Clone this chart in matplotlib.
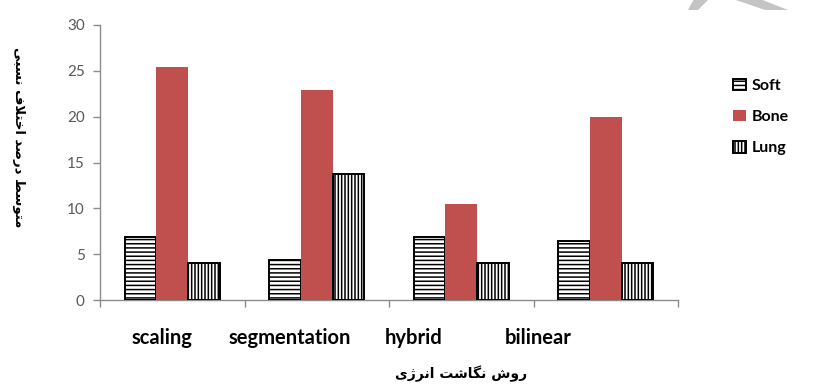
import matplotlib.pyplot as plt
import numpy as np
from matplotlib.patches import Patch, Polygon

# mean relative difference per energy-mapping method
methods = ["scaling", "segmentation", "hybrid", "bilinear"]
soft = [6.9, 4.4, 6.9, 6.4]
bone = [25.4, 22.9, 10.5, 20.0]
lung = [4.0, 13.8, 4.0, 4.0]
y_ticks = [0, 5, 10, 15, 20, 25, 30]

# Persian titles, written in visual order with presentation forms
# (matplotlib has no Arabic shaping of its own)
x_title = "\uFBFC\uFB8A\uFEAE\uFEE7\uFE8D \uFE96\uFEB7\uFE8E\uFB95\uFEE7 \uFEB5\uFEED\uFEAD"
y_title = ("\uFBFD\uFE92\uFEB4\uFEE7 \uFED1\uFEFC\uFE98\uFEA7\uFE8D "
           "\uFEAA\uFEBB\uFEAD\uFEA9 \uFEC2\uFEB3\uFEEE\uFE98\uFEE3")

W, H = 813, 385
BONE_RED = "#c0504d"
AXIS_GREY = "#8c8c8c"


def fx(px):
    return px / W


def fy(py):
    return 1 - py / H


def main():
    plt.rcParams["font.family"] = ["Lato", "DejaVu Sans"]
    plt.rcParams["hatch.linewidth"] = 1.1

    fig = plt.figure(figsize=(W / 100, H / 100), dpi=100)
    fig.patch.set_facecolor("white")

    # grey watermark band peeking in at the top
    for pts in ([(688, 10), (698, 10), (709, -1), (694, -1)],
                [(733, -1), (760, -1), (788, 10), (765, 10)]):
        fig.add_artist(Polygon([(fx(x), fy(y)) for x, y in pts], closed=True,
                               transform=fig.transFigure, color="#c4c4c4", lw=0))

    ax = fig.add_axes([fx(100), fy(300), fx(678) - fx(100), (300 - 25) / H])

    x = np.arange(len(methods))
    w = 0.22
    ax.bar(x - w, soft, w, facecolor="white", edgecolor="black", hatch="----",
           linewidth=1.4, label="Soft", zorder=3)
    ax.bar(x, bone, w, color=BONE_RED, linewidth=0, label="Bone", zorder=3)
    ax.bar(x + w, lung, w, facecolor="white", edgecolor="black", hatch="|||||",
           linewidth=1.4, label="Lung", zorder=3)

    ax.set_xlim(-0.5, len(methods) - 0.5)
    ax.set_ylim(0, 30)
    ax.set_yticks(y_ticks)
    ax.tick_params(axis="y", length=5, width=1, color=AXIS_GREY, pad=6,
                   labelsize=11, labelcolor="#595959")

    # slot boundaries carry the tick marks, labels sit on their own positions
    ax.set_xticks(np.arange(-0.5, len(methods), 1.0), minor=True)
    ax.set_xticks([-0.07, 0.81, 1.67, 2.53])
    ax.set_xticklabels(methods, fontsize=14.5, fontweight="bold")
    ax.tick_params(axis="x", which="major", length=0, pad=20)
    ax.tick_params(axis="x", which="minor", length=5, width=1, color=AXIS_GREY)

    for side in ("top", "right"):
        ax.spines[side].set_visible(False)
    for side in ("left", "bottom"):
        ax.spines[side].set_color(AXIS_GREY)
        ax.spines[side].set_linewidth(1)

    fig.text(fx(461), fy(374), x_title, family="DejaVu Sans", fontweight="bold",
             fontsize=10, ha="center", va="center")
    fig.text(fx(18), fy(137), y_title, family="DejaVu Sans", fontweight="bold",
             fontsize=9.5, rotation=270, ha="center", va="center")

    handles = [
        Patch(facecolor="white", edgecolor="black", hatch="----", linewidth=1.4),
        Patch(facecolor=BONE_RED, linewidth=0),
        Patch(facecolor="white", edgecolor="black", hatch="|||||", linewidth=1.4),
    ]
    fig.legend(handles, ["Soft", "Bone", "Lung"], loc="center left",
               bbox_to_anchor=(fx(725), fy(117)), frameon=False, borderpad=0,
               prop={"size": 11.5, "weight": "bold"}, handlelength=0.8,
               handleheight=0.75, handletextpad=0.35, labelspacing=1.05)

    fig.savefig("out.png", dpi=100, facecolor="white")


if __name__ == "__main__":
    main()
